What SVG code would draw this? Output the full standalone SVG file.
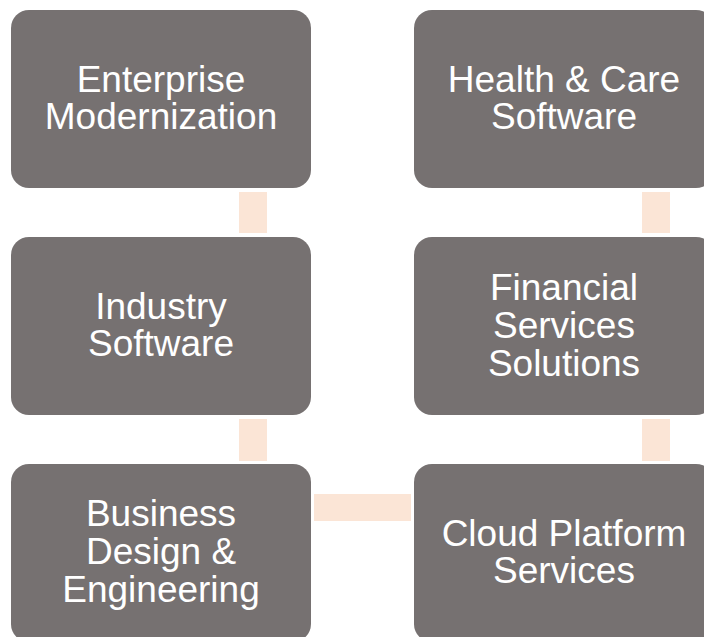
<svg xmlns="http://www.w3.org/2000/svg" width="704" height="637" viewBox="0 0 704 637">
  <style>
    .box { fill: #767171; }
    .link { fill: #fbe5d6; }
    .label { font-family: "Liberation Sans", Arial, sans-serif; font-size: 37px; fill: #ffffff; text-anchor: middle; }
  </style>
  <rect width="704" height="637" fill="#ffffff"/>

  <!-- connectors -->
  <g id="connectors">
    <rect class="link" x="239" y="192" width="28" height="41"/>
    <rect class="link" x="239" y="419" width="28" height="42"/>
    <rect class="link" x="642" y="192" width="28" height="41"/>
    <rect class="link" x="642" y="419" width="28" height="42"/>
    <rect class="link" x="314" y="494" width="97" height="27"/>
  </g>

  <g id="enterprise-modernization">
    <rect class="box" x="11" y="10" width="300" height="178" rx="18"/>
    <text class="label"><tspan x="161" y="92">Enterprise</tspan><tspan x="161" y="129">Modernization</tspan></text>
  </g>

  <g id="industry-software">
    <rect class="box" x="11" y="237" width="300" height="178" rx="18"/>
    <text class="label"><tspan x="161" y="319">Industry</tspan><tspan x="161" y="356">Software</tspan></text>
  </g>

  <g id="business-design-engineering">
    <rect class="box" x="11" y="464" width="300" height="178" rx="18"/>
    <text class="label"><tspan x="161" y="526">Business</tspan><tspan x="161" y="564">Design &amp;</tspan><tspan x="161" y="602">Engineering</tspan></text>
  </g>

  <g id="health-care-software">
    <rect class="box" x="414" y="10" width="300" height="178" rx="18"/>
    <text class="label"><tspan x="564" y="92">Health &amp; Care</tspan><tspan x="564" y="129">Software</tspan></text>
  </g>

  <g id="financial-services-solutions">
    <rect class="box" x="414" y="237" width="300" height="178" rx="18"/>
    <text class="label"><tspan x="564" y="300">Financial</tspan><tspan x="564" y="338">Services</tspan><tspan x="564" y="376">Solutions</tspan></text>
  </g>

  <g id="cloud-platform-services">
    <rect class="box" x="414" y="464" width="300" height="178" rx="18"/>
    <text class="label"><tspan x="564" y="546">Cloud Platform</tspan><tspan x="564" y="583">Services</tspan></text>
  </g>
</svg>
